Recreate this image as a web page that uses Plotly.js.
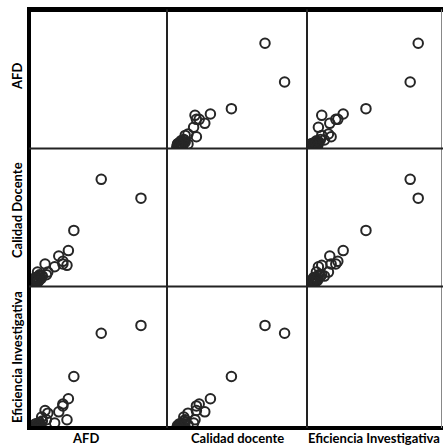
<!DOCTYPE html>
<html><head><meta charset="utf-8">
<script src="https://cdn.plot.ly/plotly-3.0.1.min.js"></script>
<style>html,body{margin:0;padding:0;background:#fff;}#chart{width:443px;height:445px;}</style>
</head><body><div id="chart"></div>
<script>
// Variables (one value per case)
const variables = ["AFD", "Calidad Docente", "Eficiencia Investigativa"];
const bottomLabels = ["AFD", "Calidad docente", "Eficiencia Investigativa"];
const afd = [52, 81, 32, 28, 27, 24, 21, 24, 18, 11, 13, 12, 8.5, 6, 5.5, 7, 4, 5, 6, 4.5, 8, 3.5, 7, 5, 9, 4, 6.5, 3, 4.5, 5.5, 3.5, 6];
const cd  = [84, 70, 46, 31, 20, 23, 27, 21, 19, 21, 15, 13, 12, 9, 15, 12, 8, 10, 11, 9, 10, 7, 13, 8, 12, 11, 9, 8.5, 9.5, 7.5, 10.5, 8];
const ei  = [77, 83, 44, 27, 11, 23, 17, 21.5, 8.5, 18, 16, 11, 13, 7, 7, 8, 5, 6, 5, 8, 7, 4.5, 9, 4, 10, 6, 5.5, 5, 4, 6.5, 7.5, 3.5];
const data = [afd, cd, ei];

const W = 443, H = 445;
const xEdges = [30, 167, 307, 441];
const yEdges = [10, 149, 287, 429];
const colRanges = [[0, 100], [0, 100], [0, 100]];
const rowRanges = [[1.8, 105.9], [3.9, 106.6], [3.9, 112.3]];

const layout = {
  width: W, height: H,
  margin: {l: 0, r: 0, t: 0, b: 0},
  paper_bgcolor: "#fff", plot_bgcolor: "#fff",
  showlegend: false, hovermode: false,
  shapes: [], annotations: []
};
const axStyle = {showgrid: false, zeroline: false, showticklabels: false, showline: false, ticks: "", fixedrange: true};
for (let i = 0; i < 3; i++) {
  const xn = i === 0 ? "xaxis" : "xaxis" + (i + 1);
  const yn = i === 0 ? "yaxis" : "yaxis" + (i + 1);
  layout[xn] = Object.assign({}, axStyle, {domain: [xEdges[i] / W, xEdges[i + 1] / W], range: colRanges[i], anchor: "y3"});
  layout[yn] = Object.assign({}, axStyle, {domain: [1 - yEdges[i + 1] / H, 1 - yEdges[i] / H], range: rowRanges[i], anchor: "x"});
}

const traces = [];
for (let r = 0; r < 3; r++) {
  for (let c = 0; c < 3; c++) {
    if (r === c) continue;
    traces.push({
      type: "scatter", mode: "markers",
      x: data[c], y: data[r],
      xaxis: c === 0 ? "x" : "x" + (c + 1),
      yaxis: r === 0 ? "y" : "y" + (r + 1),
      marker: {symbol: "circle-open", size: 9.5, color: "#262626", line: {width: 2}},
      cliponaxis: true
    });
  }
}

function line(x0, y0, x1, y1, w, col) {
  layout.shapes.push({type: "line", xref: "paper", yref: "paper",
    x0: x0 / W, x1: x1 / W, y0: 1 - y0 / H, y1: 1 - y1 / H,
    line: {width: w, color: col}});
}
// frame
line(443, 9.5, 27, 9.5, 5, "#000");
line(29, 7, 29, 430, 4, "#000");
line(27, 428, 443, 428, 4, "#000");
line(441.5, 9.5, 441.5, 428, 1, "#888");
line(167, 9.5, 167, 428, 2, "#222");
line(307, 9.5, 307, 428, 2, "#222");
line(29, 148.5, 443, 148.5, 2, "#222");
line(29, 286.5, 443, 286.5, 2, "#222");

const fnt = {family: "Lato, 'Open Sans', sans-serif", size: 13, color: "#000", weight: "bold"};
const leftY = [77, 210, 357];
for (let i = 0; i < 3; i++) {
  layout.annotations.push({xref: "paper", yref: "paper", x: 17 / W, y: 1 - leftY[i] / H,
    text: "<b>" + variables[i] + "</b>", textangle: -90, showarrow: false, font: fnt,
    xanchor: "center", yanchor: "middle"});
}
const botX = [85, 237, 442];
for (let i = 0; i < 3; i++) {
  layout.annotations.push({xref: "paper", yref: "paper", x: botX[i] / W, y: 1 - 438 / H,
    text: "<b>" + bottomLabels[i] + "</b>", showarrow: false, font: fnt,
    xanchor: i === 2 ? "right" : "center", yanchor: "middle"});
}

Plotly.newPlot("chart", traces, layout, {staticPlot: true, displayModeBar: false});
</script></body></html>
